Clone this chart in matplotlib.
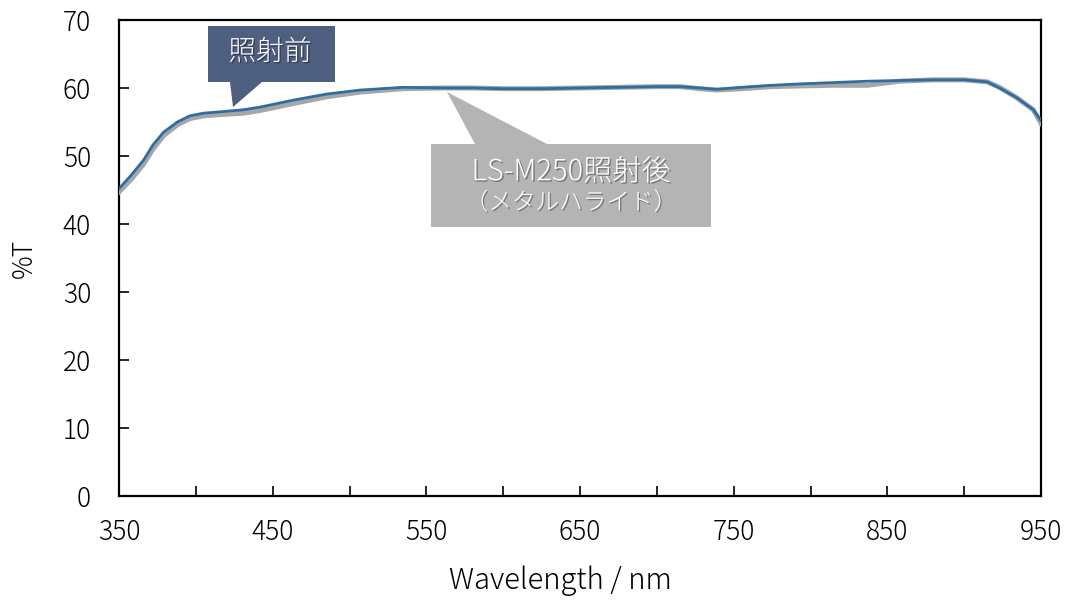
import matplotlib.pyplot as plt
import matplotlib.patheffects as pe
from matplotlib.patches import Polygon

plt.rcParams['font.family'] = ['Noto Sans CJK JP', 'DejaVu Sans']
plt.rcParams['font.weight'] = 'light'
plt.rcParams['axes.labelweight'] = 'light'

# 透過率スペクトル（照射前 / LS-M250照射後）
wavelength = [350, 358, 366, 372, 379, 388, 396, 405, 416, 431, 442, 463, 485, 507, 535,
              561, 580, 600, 625, 650, 675, 700, 715, 728, 739, 755, 775, 793, 815, 837,
              858, 880, 900, 915, 923, 934, 945, 950]
before = [45.2, 47.2, 49.4, 51.6, 53.5, 55.0, 55.9, 56.3, 56.5, 56.8, 57.2, 58.2, 59.1, 59.7, 60.1,
          60.0, 60.0, 59.9, 59.9, 60.0, 60.1, 60.2, 60.2, 60.0, 59.8, 60.1, 60.4, 60.6, 60.8, 61.0,
          61.1, 61.2, 61.2, 60.9, 60.0, 58.6, 56.8, 55.2]
after = [44.7, 46.6, 48.8, 51.0, 53.0, 54.6, 55.5, 55.9, 56.1, 56.3, 56.7, 57.7, 58.7, 59.4, 59.9,
         60.0, 60.0, 59.9, 59.9, 60.0, 60.1, 60.2, 60.2, 59.9, 59.7, 59.9, 60.2, 60.3, 60.4, 60.4,
         61.0, 61.2, 61.2, 60.9, 60.1, 58.6, 56.8, 54.8]

x_ticks = list(range(350, 951, 50))
x_labels = [str(v) if (v - 350) % 100 == 0 else '' for v in x_ticks]
y_ticks = list(range(0, 71, 10))

W, H = 1071, 604
fig = plt.figure(figsize=(W / 100, H / 100), dpi=100)
ax = fig.add_axes([119 / W, 1 - 496 / H, (1041 - 119) / W, (496 - 20) / H])

ax.plot(wavelength, after, color='#A6A6A6', lw=3.6, zorder=3)
ax.plot(wavelength, before, color='#2E6DA4', lw=2.0, zorder=4)

ax.set_xlim(350, 950)
ax.set_ylim(0, 70)
ax.set_xticks(x_ticks)
ax.set_xticklabels(x_labels)
ax.set_yticks(y_ticks)
ax.tick_params(direction='in', length=7, width=1.2, labelsize=19)
ax.tick_params(axis='x', pad=16)
ax.tick_params(axis='y', pad=20)
for s in ax.spines.values():
    s.set_linewidth(1.6)
ax.set_xlabel('Wavelength / nm', fontsize=21)
ax.xaxis.set_label_coords(0.479, -0.145)
ax.set_ylabel('%T', fontsize=19, labelpad=18)


# 吹き出し（ピクセル座標、左上原点）
def px(x, y):
    return (x / W, 1 - y / H)


shadow = [pe.withSimplePatchShadow(offset=(1, -1), shadow_rgbFace='black', alpha=0.35)]

box1 = [px(208, 26), px(335, 26), px(335, 82), px(262, 82), px(233, 107), px(230, 82), px(208, 82)]
fig.patches.append(Polygon(box1, closed=True, transform=fig.transFigure,
                           facecolor='#4F5F80', edgecolor='none', zorder=5))
fig.text(*px(270, 52), '照射前', color='white', fontsize=20, ha='center', va='center',
         path_effects=shadow, zorder=6)

box2 = [px(431, 144), px(475, 144), px(447, 92), px(547, 144), px(711, 144),
        px(711, 227), px(431, 227)]
fig.patches.append(Polygon(box2, closed=True, transform=fig.transFigure,
                           facecolor='#B4B4B4', edgecolor='none', zorder=5))
fig.text(*px(571, 172), 'LS-M250照射後', color='white', fontsize=21, ha='center', va='center',
         path_effects=shadow, zorder=6)
fig.text(*px(571, 203), '（メタルハライド）', color='white', fontsize=17, ha='center', va='center',
         path_effects=shadow, zorder=6)

fig.savefig('out.png', dpi=100)
